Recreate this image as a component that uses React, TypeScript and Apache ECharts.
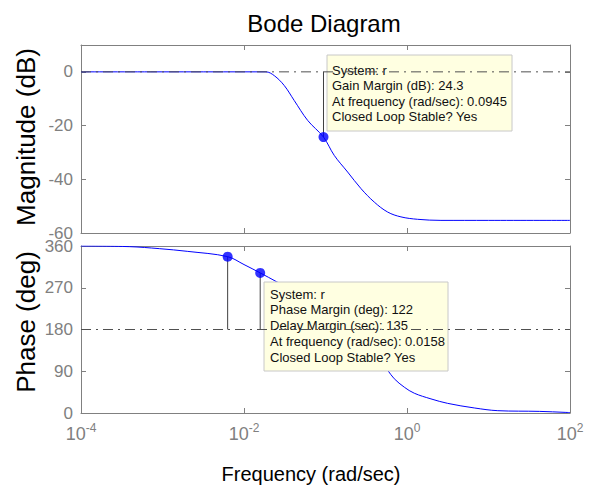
import React, { useEffect, useRef } from "react";
import * as echarts from "echarts";

// ---- data (frequencies in rad/sec) ----
const freqTickExps = [-4, -2, 0, 2];
const magTicks = [-60, -40, -20, 0];
const phaseTicks = [0, 90, 180, 270, 360];

const magFreq = [1e-4, 1e-3, 0.01, 0.0186, 0.0235, 0.0312, 0.0414, 0.0605, 0.0945, 0.128, 0.187, 0.273, 0.397, 0.579, 0.843, 1.35, 2.61, 10, 100];
const magDb = [0, 0, 0, 0, -1.4, -5.1, -10.7, -18.1, -24.3, -31.1, -37.3, -43.5, -48.5, -52.2, -54.0, -54.9, -55.3, -55.3, -55.3];

const phaseFreq = [1e-4, 3.92e-4, 9.14e-4, 2.04e-3, 6.31e-3, 0.01, 0.0158, 0.0251, 0.0398, 0.0631, 0.1, 0.158, 0.251, 0.398, 0.58, 0.698, 0.927, 1.23, 1.97, 3.15, 6.69, 13, 42, 89, 100];
const phaseDeg = [360, 358.6, 354.3, 348.4, 337, 320, 302, 283, 264, 244, 222, 196, 166, 128, 92, 73.8, 55.6, 42.6, 30.4, 20.8, 10.9, 5, 3.5, 1.3, 1];

const gmFreq = 0.0945;
const gmDb = -24.3;
const pmFreqs = [0.0063, 0.0158];
const pmDegs = [337, 302];
const magRef = 0;
const phaseRef = 180;

const gmText = ["System: r", "Gain Margin (dB): 24.3", "At frequency (rad/sec): 0.0945", "Closed Loop Stable? Yes"];
const pmText = ["System: r", "Phase Margin (deg): 122", "Delay Margin (sec): 135", "At frequency (rad/sec): 0.0158", "Closed Loop Stable? Yes"];

const FONT = "'Liberation Sans', Arial, sans-serif";
const GRAY = "#808080";
const lg = (f: number) => Math.log10(f);

export default function App() {
  const ref = useRef<HTMLDivElement>(null);
  useEffect(() => {
    if (!ref.current) return;
    const chart = echarts.init(ref.current, undefined, { renderer: "svg" });

    const xCommon = (gridIndex: number, position: "top" | "bottom", labels: boolean) => ({
      type: "value",
      gridIndex,
      position,
      min: -4,
      max: 2,
      axisLine: { show: true, onZero: false, lineStyle: { color: GRAY, width: 1 } },
      axisTick: { show: true, inside: true, length: 5, customValues: freqTickExps, lineStyle: { color: GRAY } },
      splitLine: { show: false },
      axisLabel: labels
        ? {
            show: true,
            customValues: freqTickExps,
            margin: 9,
            formatter: (v: number) => `{b|10}{s|${v}}`,
            rich: {
              b: { fontSize: 18, fontFamily: FONT, color: GRAY, verticalAlign: "bottom" },
              s: { fontSize: 12, fontFamily: FONT, color: GRAY, verticalAlign: "bottom", padding: [0, 0, 9, 0] },
            },
          }
        : { show: false },
    });

    const yCommon = (gridIndex: number, position: "left" | "right", min: number, max: number, ticks: number[], labels: boolean) => ({
      type: "value",
      gridIndex,
      position,
      min,
      max,
      axisLine: { show: true, onZero: false, lineStyle: { color: GRAY, width: 1 } },
      axisTick: { show: true, inside: true, length: 5, customValues: ticks, lineStyle: { color: GRAY } },
      splitLine: { show: false },
      axisLabel: labels
        ? { show: true, customValues: ticks, margin: 8, fontSize: 17, fontFamily: FONT, color: GRAY }
        : { show: false },
    });

    const dashDot = { color: "#505050", width: 1, type: [10, 5, 2, 5] as any };

    const option: any = {
      animation: false,
      backgroundColor: "#ffffff",
      grid: [
        { left: 81, top: 45, width: 489, height: 188, show: false },
        { left: 81, top: 246, width: 489, height: 167, show: false },
      ],
      xAxis: [
        xCommon(0, "bottom", false),
        xCommon(0, "top", false),
        xCommon(1, "bottom", true),
        xCommon(1, "top", false),
      ],
      yAxis: [
        yCommon(0, "left", -60, 10, magTicks, true),
        yCommon(0, "right", -60, 10, magTicks, false),
        yCommon(1, "left", 0, 360, phaseTicks, true),
        yCommon(1, "right", 0, 360, phaseTicks, false),
      ],
      series: [
        {
          type: "line",
          xAxisIndex: 0,
          yAxisIndex: 0,
          data: magFreq.map((f, i) => [lg(f), magDb[i]]),
          showSymbol: false,
          smooth: 0.35,
          lineStyle: { color: "#0000ff", width: 1 },
          z: 2,
        },
        {
          type: "line",
          xAxisIndex: 0,
          yAxisIndex: 0,
          data: [[-4, magRef], [2, magRef]],
          showSymbol: false,
          lineStyle: dashDot,
          z: 20,
        },
        {
          type: "line",
          xAxisIndex: 0,
          yAxisIndex: 0,
          data: [[lg(gmFreq), magRef], [lg(gmFreq), gmDb]],
          showSymbol: false,
          lineStyle: { color: "#404040", width: 1 },
          z: 3,
        },
        {
          type: "scatter",
          xAxisIndex: 0,
          yAxisIndex: 0,
          data: [[lg(gmFreq), gmDb]],
          symbolSize: 10,
          itemStyle: { color: "#0000ff" },
          z: 4,
        },
        {
          type: "line",
          xAxisIndex: 2,
          yAxisIndex: 2,
          data: phaseFreq.map((f, i) => [lg(f), phaseDeg[i]]),
          showSymbol: false,
          smooth: 0.35,
          lineStyle: { color: "#0000ff", width: 1 },
          z: 2,
        },
        {
          type: "line",
          xAxisIndex: 2,
          yAxisIndex: 2,
          data: [[-4, phaseRef], [2, phaseRef]],
          showSymbol: false,
          lineStyle: dashDot,
          z: 20,
        },
        ...pmFreqs.map((f, i) => ({
          type: "line",
          xAxisIndex: 2,
          yAxisIndex: 2,
          data: [[lg(f), phaseRef], [lg(f), pmDegs[i]]],
          showSymbol: false,
          lineStyle: { color: "#404040", width: 1 },
          z: 3,
        })),
        {
          type: "scatter",
          xAxisIndex: 2,
          yAxisIndex: 2,
          data: pmFreqs.map((f, i) => [lg(f), pmDegs[i]]),
          symbolSize: 10,
          itemStyle: { color: "#0000ff" },
          z: 12,
        },
      ],
      graphic: [
        {
          type: "text",
          x: 324,
          y: 23,
          style: { text: "Bode Diagram", fontSize: 24, fontFamily: FONT, fill: "#000", align: "center", verticalAlign: "middle" },
        },
        {
          type: "text",
          x: 26,
          y: 137,
          rotation: Math.PI / 2,
          style: { text: "Magnitude (dB)", fontSize: 26, fontFamily: FONT, fill: "#000", align: "center", verticalAlign: "middle" },
        },
        {
          type: "text",
          x: 26,
          y: 322,
          rotation: Math.PI / 2,
          style: { text: "Phase (deg)", fontSize: 26, fontFamily: FONT, fill: "#000", align: "center", verticalAlign: "middle" },
        },
        {
          type: "text",
          x: 311,
          y: 474,
          style: { text: "Frequency (rad/sec)", fontSize: 20, fontFamily: FONT, fill: "#000", align: "center", verticalAlign: "middle" },
        },
        {
          type: "rect",
          z: 10,
          shape: { x: 327, y: 55, width: 185, height: 76 },
          style: { fill: "#ffffe1", stroke: "#c8c8c8", lineWidth: 1 },
        },
        ...gmText.map((t, i) => ({
          type: "text",
          z: 11,
          x: 332,
          y: 70 + i * 15.6,
          style: { text: t, fontSize: 13, fontFamily: FONT, fill: "#111", align: "left", verticalAlign: "middle" },
        })),
        {
          type: "rect",
          z: 10,
          shape: { x: 264, y: 282, width: 184, height: 89 },
          style: { fill: "#ffffe1", stroke: "#c8c8c8", lineWidth: 1 },
        },
        ...pmText.map((t, i) => ({
          type: "text",
          z: 11,
          x: 270,
          y: 294 + i * 15.9,
          style: { text: t, fontSize: 13, fontFamily: FONT, fill: "#111", align: "left", verticalAlign: "middle" },
        })),
      ],
    };

    chart.setOption(option);
    return () => chart.dispose();
  }, []);

  return (
    <div
      ref={ref}
      style={{ position: "fixed", left: 0, top: 0, width: 589, height: 485, background: "#fff" }}
    />
  );
}
